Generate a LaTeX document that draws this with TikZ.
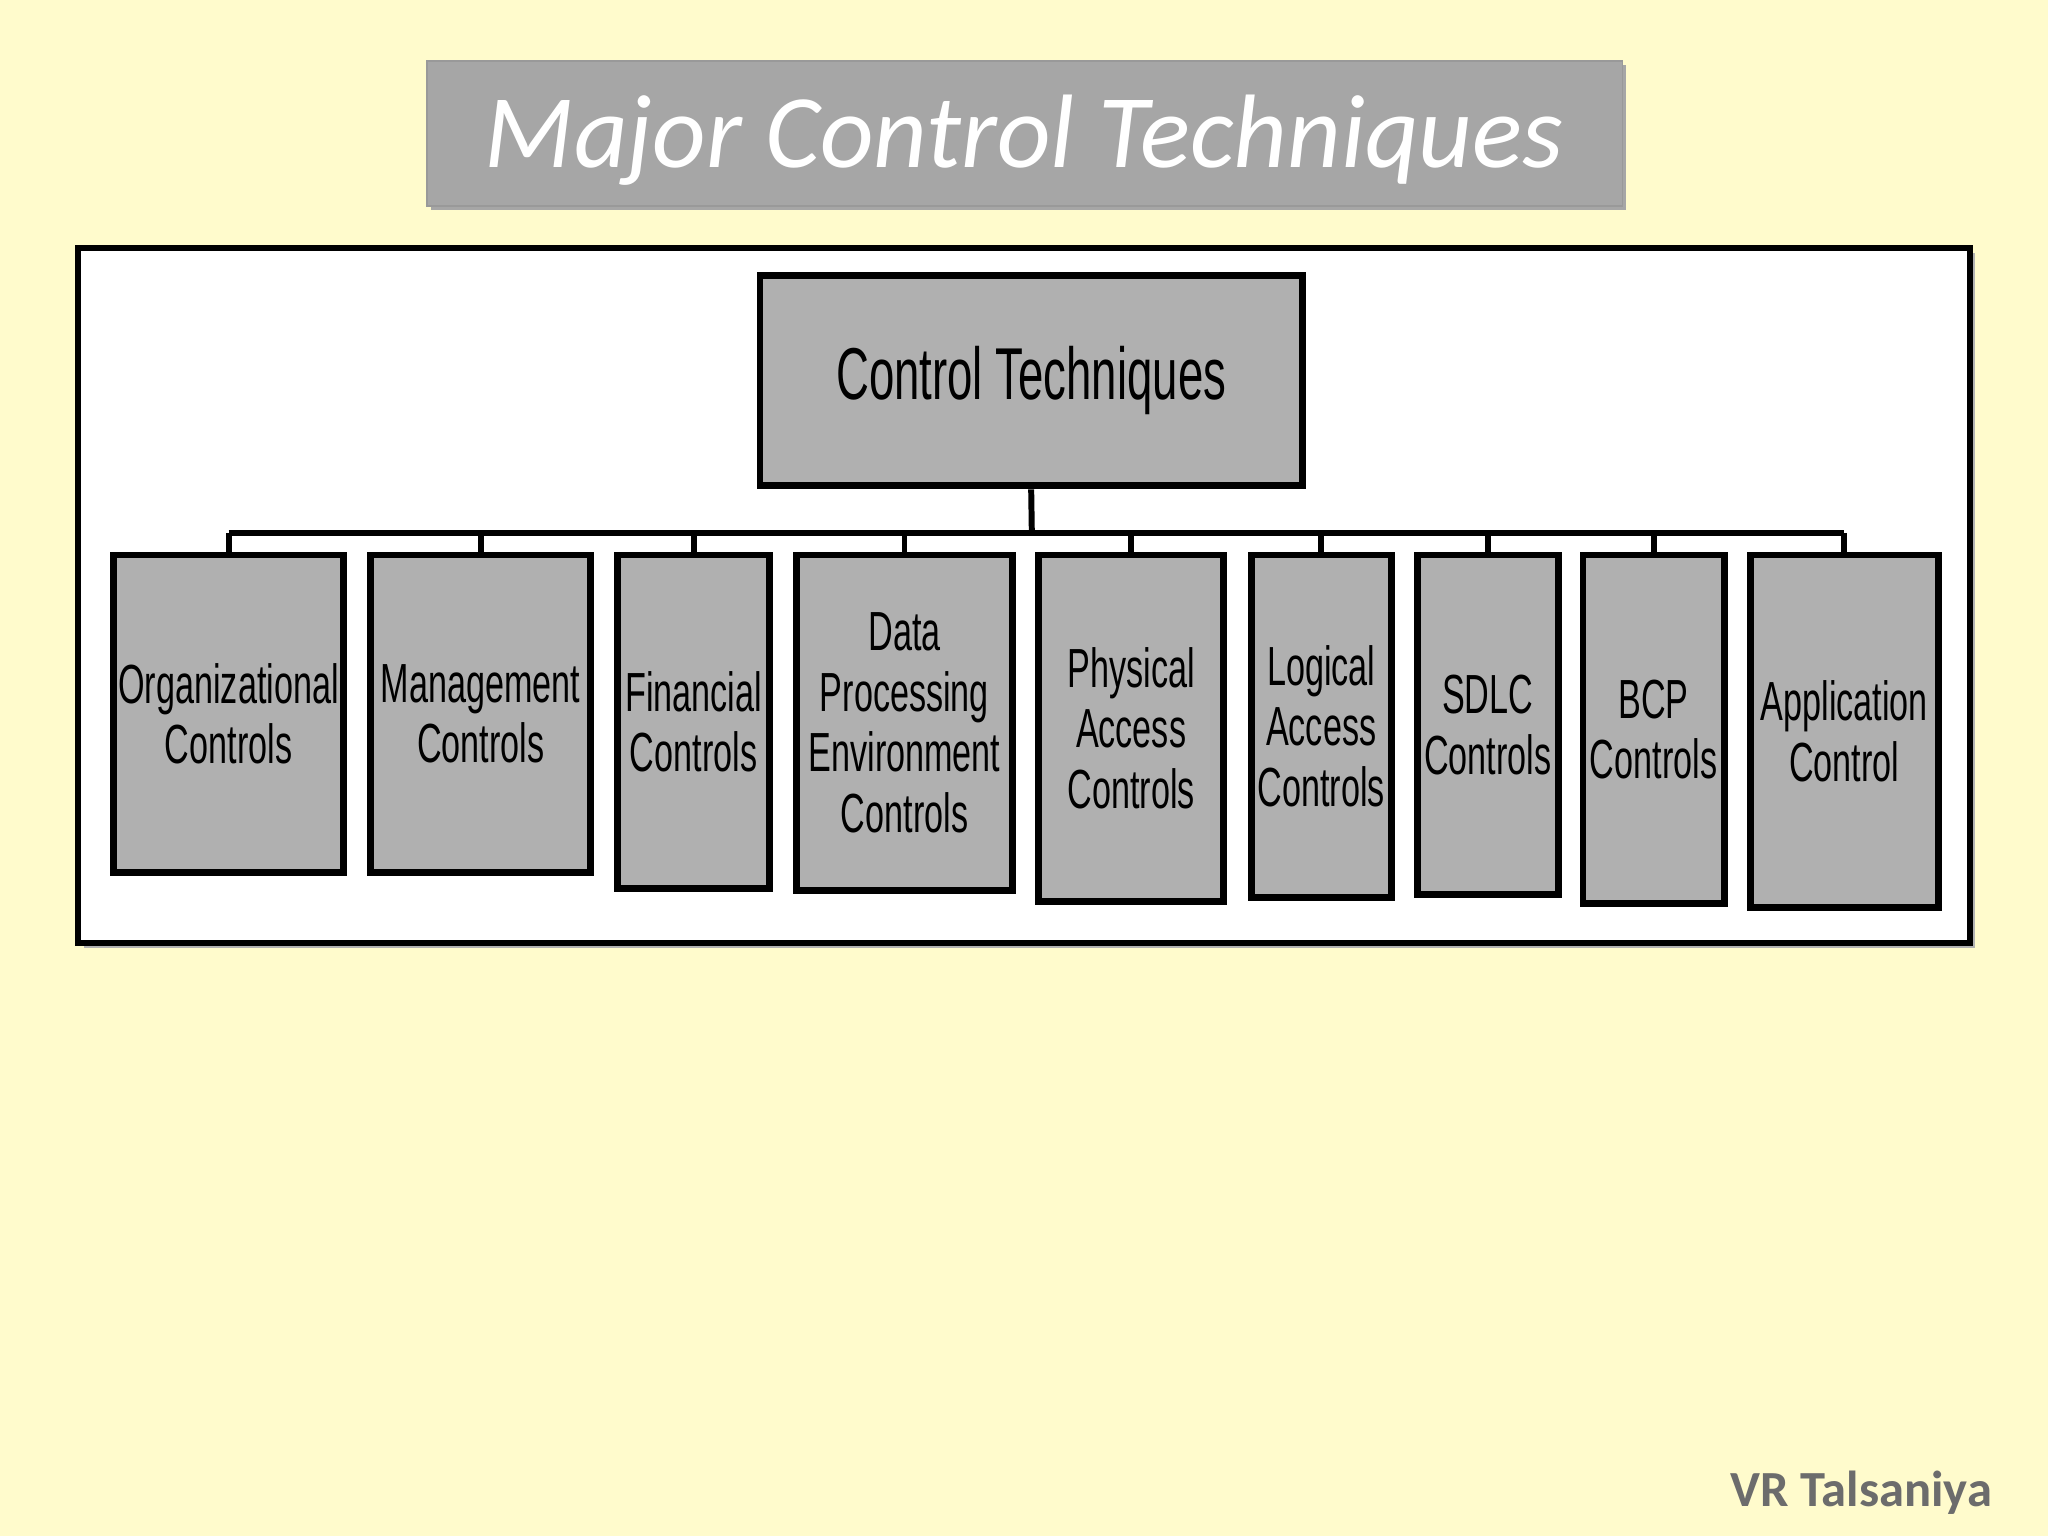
\documentclass[tikz,border=0pt]{standalone}
\usepackage{fontspec}
\setmainfont{Carlito}
\newfontfamily\narrowfont[FakeStretch=0.62]{Liberation Sans}
\usetikzlibrary{positioning}
\definecolor{bgyel}{RGB}{255,251,204}
\definecolor{boxgray}{RGB}{176,176,176}
\definecolor{titlegray}{RGB}{166,166,166}
\tikzset{
  child/.style={draw=black, line width=1.5pt, fill=boxgray, align=center, inner sep=0pt,
    font=\narrowfont\fontsize{12}{13.2}\selectfont},
  conn/.style={draw=black, line width=1.3pt}
}
\begin{document}
\begin{tikzpicture}[x=0.01cm,y=-0.01cm]
\fill[bgyel] (0,0) rectangle (1568,1176);
\useasboundingbox (0,0) rectangle (1568,1176);
% title
\fill[gray!70] (330,50) rectangle (1245,161);
\node[draw=gray!80, fill=titlegray, minimum width=9.15cm, minimum height=1.11cm, inner sep=0pt] (title) at (784.5,102.5) {};
\node[text=white] (tt) at (784,107) {\resizebox{8.25cm}{!}{\itshape Major Control Techniques}};
% panel
\fill[gray!60] (64,194) rectangle (1512,726);
\node[draw=black, line width=1.3pt, fill=white, minimum width=14.48cm, minimum height=5.32cm, inner sep=0pt] (panel) at (784,456) {};
% root
\node[child, minimum width=4.15cm, minimum height=1.61cm, font=\narrowfont\fontsize{16}{20}\selectfont] (root) at (789.5,291.5) {Control Techniques};
% children
\node[child, minimum width=1.76cm, minimum height=2.43cm] (c1) at (175,546.5) {Organizational\\Controls};
\node[child, minimum width=1.68cm, minimum height=2.43cm] (c2) at (368,546.5) {Management\\Controls};
\node[child, minimum width=1.16cm, minimum height=2.55cm] (c3) at (531,552.5) {Financial\\Controls};
\node[child, minimum width=1.65cm, minimum height=2.57cm] (c4) at (692.5,553.5) {Data\\Processing\\Environment\\Controls};
\node[child, minimum width=1.42cm, minimum height=2.65cm] (c5) at (866,557.5) {Physical\\Access\\Controls};
\node[child, minimum width=1.07cm, minimum height=2.62cm] (c6) at (1011.5,556) {Logical\\Access\\Controls};
\node[child, minimum width=1.08cm, minimum height=2.60cm] (c7) at (1139,555) {SDLC\\Controls};
\node[child, minimum width=1.08cm, minimum height=2.67cm] (c8) at (1266,558.5) {BCP\\Controls};
\node[child, minimum width=1.44cm, minimum height=2.70cm] (c9) at (1412,560) {Application\\Control};
% connectors
\coordinate (bus) at (790,408);
\draw[conn] (root.south) -- (bus);
\foreach \i in {1,...,9} {\coordinate (b\i) at (c\i.north |- bus);}
\draw[conn] (b1) -- (b9);
\foreach \i in {1,...,9} {\draw[conn] (b\i) -- (c\i.north);}
% footer
\node[text=gray!85!black, font=\bfseries] (foot) at (1425,1143) {\resizebox{2cm}{!}{\bfseries VR Talsaniya}};
\end{tikzpicture}
\end{document}
